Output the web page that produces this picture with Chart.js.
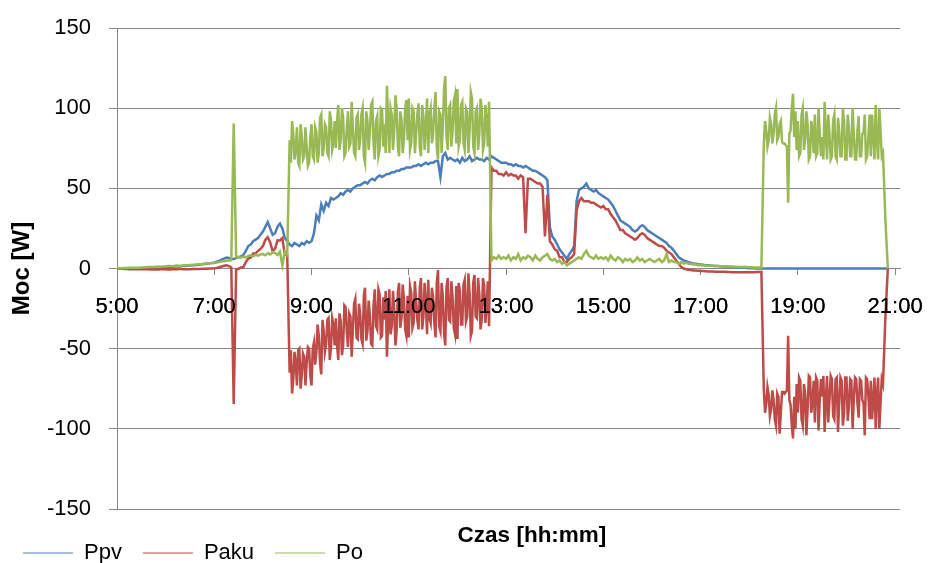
<!DOCTYPE html>
<html>
<head>
<meta charset="utf-8">
<script src="https://cdn.jsdelivr.net/npm/chart.js@4.4.1/dist/chart.umd.min.js"></script>
<style>
  html, body { margin: 0; padding: 0; background: #fff; }
  #wrap { width: 928px; height: 563px; }
</style>
</head>
<body>
<div id="wrap"><canvas id="moc"></canvas></div>
<script>
// samples every 3 minutes, starting at 5:00 (minutes after midnight)
const startMin = 300;
const stepMin = 3;
// extra samples in the noisy parts, half way between the regular ones
const fineMorningStart = 514.5;   // 8:34.5
const fineEveningStart = 1099.5;  // 18:19.5

const tickMinutes = [300, 420, 540, 660, 780, 900, 1020, 1140, 1260];
const tickLabels = ['5:00', '7:00', '9:00', '11:00', '13:00', '15:00', '17:00', '19:00', '21:00'];

// one row = 30 minutes
const ppv = [
  0, 0, 0, 0, 0, 0, 0.1, 0.1, 0.1, 0.2,
  0.2, 0.3, 0.3, 0.4, 0.4, 0.5, 0.5, 0.6, 0.6, 0.7,
  0.8, 0.9, 1.0, 1.1, 1.2, 1.3, 1.4, 1.5, 1.6, 1.7,
  1.8, 2.0, 2.1, 2.3, 2.4, 2.6, 2.8, 3.0, 3.2, 3.4,
  3.6, 4.2, 4.8, 5.5, 6.2, 6.8, 6.5, 6.0, 6.0, 6.5,
  7.0, 7.5, 8.5, 11, 14, 15, 17, 18, 19, 21,
  23, 26, 29, 25, 21, 22, 26, 28, 25, 19,
  17, 15, 14, 16, 15, 14, 16, 15, 17, 16,
  17, 22, 33, 30, 40, 36, 41, 39, 44, 43,
  44, 45, 47, 46, 48, 49, 48, 50, 51, 52,
  52, 53, 54, 53, 55, 56, 55, 57, 58, 57,
  58, 59, 59, 60, 60, 61, 61, 62, 62, 63,
  63, 63, 64, 64, 65, 64, 65, 66, 65, 66,
  66, 67, 67, 57, 70, 72, 68, 69, 68, 67,
  68, 66, 69, 67, 68, 70, 67, 68, 69, 68,
  68, 67, 69, 68, 70, 69, 68, 67, 66, 66,
  66, 65, 65, 64, 65, 64, 64, 63, 64, 63,
  62, 61, 61, 60, 59, 58, 57, 55, 26, 20,
  18, 15, 12, 10, 8, 6, 9, 11, 14, 42,
  49, 50, 51, 53, 50, 49, 48, 49, 47, 46,
  45, 44, 43, 41, 39, 36, 33, 30, 29, 28,
  27, 26, 24, 23, 24, 26, 27, 26, 24, 23,
  22, 21, 20, 19, 18, 17, 16, 14, 13, 11,
  9, 7, 6, 5, 4.5, 4, 3.6, 3.2, 3.0, 2.7,
  2.5, 2.3, 2.1, 2.0, 1.8, 1.7, 1.6, 1.5, 1.4, 1.3,
  1.2, 1.1, 1.0, 0.9, 0.8, 0.7, 0.6, 0.5, 0.4, 0.3,
  0.2, 0.1, 0.1, 0, 0, 0, 0, 0, 0, 0,
  0, 0, 0, 0, 0, 0, 0, 0, 0, 0,
  0, 0, 0, 0, 0, 0, 0, 0, 0, 0,
  0, 0, 0, 0, 0, 0, 0, 0, 0, 0,
  0, 0, 0, 0, 0, 0, 0, 0, 0, 0,
  0, 0, 0, 0, 0, 0, 0, 0
];

const paku = [
  -0.1, -0.2, -0.2, -0.3, -0.3, -0.4, -0.3, -0.4, -0.4, -0.3,
  -0.4, -0.4, -0.5, -0.5, -0.6, -0.5, -0.6, -0.6, -0.5, -0.5,
  -0.5, -0.6, -0.6, -0.3, -0.5, -0.5, -0.2, -0.4, -0.4, -0.4,
  -0.4, -0.3, -0.3, -0.3, -0.3, -0.2, -0.2, -0.1, 0, 0,
  0.1, 0.4, 0.8, 1.2, 1.7, 2.0, 1.5, 0.8, -84.5, -0.5,
  -0.2, 0.7, 1.0, 4.0, 6.2, 6.8, 9.4, 9.5, 11, 12.2,
  14, 17.8, 19.5, 16.2, 10.8, 12.4, 17.6, 17.5, 19, 8.5,
  8.5, -65, -78, -52, -73, -50, -66, -55, -59, -50,
  -73, -46, -52, -42, -66, -39, -47, -31, -49, -35,
  -31, -57, -33, -48, -24, -49, -30, -38, -19, -44,
  -28, -47, -12, -39, -30, -48, -13, -38, -16, -42,
  -32, -55, -13, -36, -26, -39, -9, -31, -19, -42,
  -43, -15, -34, -20, -38, -6, -30, -22, -7, -34,
  -18, -43, -1, -39, -18, -48, -6, -33, -18, -41,
  -44, -14, -35, -7, -30, -16, -39, -4, -31, -16,
  -32, -11, -23, -36, 63, 61, 61, 59, 59, 58,
  60, 58, 59, 58, 58, 56, 58, 57, 22, 56,
  56, 55, 54, 53, 53, 51, 20, 46, 17, 15,
  12, 11, 7, 7, 4, 4, 6, 7, 9, 36,
  42, 44, 42, 42, 42, 41, 41, 40, 39, 38,
  39, 37, 37, 34, 32, 30, 27, 24, 24, 22,
  21, 20, 19, 18, 19, 21, 22, 21, 19, 18,
  17, 16, 15, 14, 14, 13, 11, 10, 9, 7,
  5, 3, 1, 0, -0.5, -0.8, -1, -1.2, -1.3, -1.4,
  -1.5, -1.6, -1.7, -1.8, -1.8, -1.9, -2.0, -2.0, -2.0, -2.1,
  -2.1, -2.2, -2.2, -2.3, -2.3, -2.3, -2.4, -2.4, -2.4, -2.4,
  -2.4, -2.3, -2.3, -2.2, -2.2, -2.1, -76, -84, -79, -88,
  -82, -98, -80, -90, -77, -77, -42, -85, -106, -100,
  -90, -70, -98, -78, -88, -68, -84, -96, -70, -82,
  -80, -102, -67, -82, -69, -94, -68, -84, -70, -90,
  -68, -86, -70, -82, -69, -93, -70, -84, -68, -80,
  -70, -82, -100, -68, -84, -72, -30, 0
];

const po = [
  0.1, 0.2, 0.2, 0.3, 0.3, 0.4, 0.4, 0.5, 0.5, 0.5,
  0.6, 0.7, 0.8, 0.9, 1.0, 1.0, 1.1, 1.2, 1.1, 1.2,
  1.3, 1.5, 1.6, 1.4, 1.7, 1.8, 1.6, 1.9, 2.0, 2.1,
  2.2, 2.3, 2.4, 2.6, 2.7, 2.8, 3.0, 3.1, 3.2, 3.4,
  3.5, 3.8, 4.0, 4.3, 4.5, 4.8, 5.0, 5.2, 90.5, 7.0,
  7.2, 6.8, 7.5, 7.0, 7.8, 8.2, 7.6, 8.5, 8.0, 8.8,
  9.0, 8.2, 9.5, 8.8, 10.2, 9.6, 8.4, 10.5, 2.0, 10.5,
  8.5, 80, 92, 68, 88, 64, 82, 70, 76, 66,
  90, 68, 85, 72, 96, 75, 88, 70, 93, 78,
  75, 102, 80, 94, 72, 98, 78, 88, 70, 96,
  80, 100, 66, 92, 85, 104, 68, 95, 74, 99,
  90, 114, 72, 96, 86, 100, 70, 93, 81, 105,
  106, 78, 98, 84, 103, 70, 95, 88, 72, 100,
  84, 110, 68, 96, 88, 120, 74, 102, 86, 108,
  112, 80, 104, 74, 98, 86, 106, 72, 100, 84,
  100, 78, 92, 104, 5, 7, 6, 8, 6, 7,
  6, 8, 5, 7, 6, 9, 5, 7, 6, 8,
  7, 5, 8, 6, 5, 7, 8, 9, 6, 5,
  6, 4, 5, 3, 4, 2, 3, 4, 5, 6,
  7, 6, 9, 11, 8, 7, 6, 8, 6, 7,
  6, 7, 5, 8, 6, 5, 7, 6, 4, 6,
  5, 6, 4, 5, 7, 5, 6, 4, 5, 6,
  5, 4, 5, 6, 4, 5, 9, 4, 5, 4,
  4, 3, 4, 3, 3.5, 3, 3, 2.5, 2.5, 2,
  2.0, 1.9, 1.8, 1.7, 1.7, 1.6, 1.5, 1.5, 1.4, 1.4,
  1.3, 1.3, 1.2, 1.2, 1.1, 1.1, 1.0, 1.0, 0.9, 0.9,
  0.8, 0.8, 0.7, 0.7, 0.6, 0.6, 78, 86, 80, 90,
  84, 100, 82, 92, 78, 77, 41, 86, 109, 98,
  92, 72, 100, 80, 90, 70, 86, 96, 72, 84,
  82, 104, 68, 84, 70, 96, 68, 86, 70, 92,
  68, 88, 70, 84, 68, 95, 70, 85, 68, 82,
  70, 84, 102, 68, 86, 72, 30, 0
];

// 8:34.5 .. 12:37.5
const pakuFineMorning = [
  -51, -69, -59, -51, -75, -53, -73, -49, -67,
  -50, -60, -35, -59, -32, -52, -32, -57, -31, -48,
  -48, -28, -54, -23, -40, -28, -55, -22, -43, -22,
  -44, -17, -45, -20, -47, -23, -36, -13, -43, -18,
  -14, -33, -41, -14, -48, -15, -37, -10, -38, -17,
  -11, -37, -8, -32, -12, -38, -9, -41, -31, -12,
  -34, -9, -36, -9, -41, -12, -32, -8, -37, -11,
  -9, -35, -10, -33, -3, -42, -9, -30, -6, -38,
  -6, -34, -8
];
const poFineMorning = [
  66, 84, 74, 66, 90, 68, 88, 64, 82,
  70, 88, 66, 94, 70, 90, 72, 98, 74, 92,
  92, 74, 100, 70, 88, 76, 104, 72, 94, 74,
  96, 70, 98, 74, 102, 78, 92, 70, 100, 76,
  72, 92, 100, 74, 108, 76, 98, 72, 100, 80,
  74, 100, 72, 96, 76, 102, 74, 106, 96, 78,
  100, 76, 98, 72, 112, 82, 100, 76, 104, 78,
  76, 102, 78, 100, 72, 110, 76, 98, 74, 106,
  74, 102, 76
];
// 18:19.5 .. 20:43.5
const pakuFineEvening = [
  -90, -74, -92, -76,
  -94, -78, -103, -77, -78, -76, -82, -98, -80, -72,
  -68, -94, -72, -104, -67, -90, -70, -68, -101, -69,
  -67, -82, -96, -67, -92, -69, -102, -68, -98, -68,
  -95, -69, -100, -68, -84, -69, -82, -104, -69, -94,
  -94, -68, -79, -100, -69
];
const poFineEvening = [
  92, 76, 94, 78,
  96, 80, 90, 79, 78, 76, 84, 100, 82, 74,
  70, 96, 74, 98, 68, 92, 72, 70, 100, 70,
  68, 84, 96, 68, 92, 70, 94, 70, 100, 68,
  96, 70, 100, 68, 86, 70, 84, 96, 70, 96,
  96, 68, 80, 100, 70
];

function series(values, extra) {
  let pts = values.map(function (v, i) {
    return { x: startMin + i * stepMin, y: v };
  });
  (extra || []).forEach(function (part) {
    part.values.forEach(function (v, i) {
      pts.push({ x: part.start + i * stepMin, y: v });
    });
  });
  return pts.sort(function (a, b) { return a.x - b.x; });
}

const fontFamily = "'Liberation Sans', Arial, sans-serif";
const gridColor = '#868686';
Chart.defaults.font.family = fontFamily;
Chart.defaults.color = '#000';

// x axis title sits right of centre in the original, so it is drawn by hand;
// time labels are painted again so they sit above the lines
const xTitle = {
  id: 'xTitle',
  afterDatasetsDraw(chart) {
    chart.scales.x.drawLabels(chart.chartArea);
  },
  afterDraw(chart) {
    const { ctx, chartArea } = chart;
    ctx.save();
    ctx.font = 'bold 22.5px ' + fontFamily;
    ctx.fillStyle = '#000';
    ctx.textAlign = 'center';
    ctx.textBaseline = 'middle';
    ctx.fillText('Czas [hh:mm]', chartArea.left + (chartArea.right - chartArea.left) * 0.53, chartArea.bottom + 27);
    ctx.restore();
  }
};

new Chart(document.getElementById('moc'), {
  type: 'line',
  data: {
    datasets: [
      { label: 'Ppv', data: series(ppv), borderColor: '#4A7EBB', backgroundColor: '#4A7EBB', order: 2 },
      {
        label: 'Paku',
        data: series(paku, [
          { start: fineMorningStart, values: pakuFineMorning },
          { start: fineEveningStart, values: pakuFineEvening }
        ]),
        borderColor: '#BE4B48', backgroundColor: '#BE4B48', order: 1
      },
      {
        label: 'Po',
        data: series(po, [
          { start: fineMorningStart, values: poFineMorning },
          { start: fineEveningStart, values: poFineEvening }
        ]),
        borderColor: '#98B954', backgroundColor: '#98B954', order: 0
      }
    ]
  },
  options: {
    responsive: true,
    maintainAspectRatio: false,
    animation: false,
    parsing: false,
    elements: {
      line: { borderWidth: 2.5, tension: 0 },
      point: { radius: 0 }
    },
    layout: { padding: { left: 2, right: 28, top: 28, bottom: -11 } },
    scales: {
      x: {
        type: 'linear',
        position: { y: 0 },
        min: 300,
        max: 1266,
        afterBuildTicks: function (axis) {
          axis.ticks = tickMinutes.map(function (v) { return { value: v }; });
        },
        afterFit: function (axis) {
          axis.paddingLeft = 0;
          axis.paddingRight = 0;
        },
        ticks: {
          autoSkip: false,
          maxRotation: 0,
          padding: 19,
          font: { size: 22 },
          callback: function (v, i) { return tickLabels[i]; }
        },
        grid: { drawOnChartArea: false, drawTicks: true, tickLength: 6, color: gridColor },
        border: { color: gridColor }
      },
      xt: {
        type: 'linear',
        position: 'bottom',
        ticks: { display: false },
        grid: { display: false },
        border: { display: false },
        afterFit: function (axis) { axis.height = 12; }
      },
      y: {
        min: -150,
        max: 150,
        ticks: { stepSize: 50, padding: 18, font: { size: 22 } },
        grid: { color: gridColor, tickLength: 8 },
        border: { color: gridColor },
        title: {
          display: true,
          text: 'Moc [W]',
          font: { size: 24, weight: 'bold', lineHeight: 1 },
          padding: { top: 8.5, bottom: 0 }
        },
        afterFit: function (axis) {
          axis.width = 115;
          axis.paddingTop = 0;
          axis.paddingBottom = 0;
        }
      }
    },
    plugins: {
      tooltip: { enabled: false },
      legend: {
        position: 'bottom',
        align: 'start',
        labels: {
          usePointStyle: true,
          pointStyle: 'line',
          pointStyleWidth: 50,
          padding: 21,
          font: { size: 22 },
          sort: function (a, b) { return a.datasetIndex - b.datasetIndex; }
        }
      }
    }
  },
  plugins: [xTitle]
});
</script>
</body>
</html>
